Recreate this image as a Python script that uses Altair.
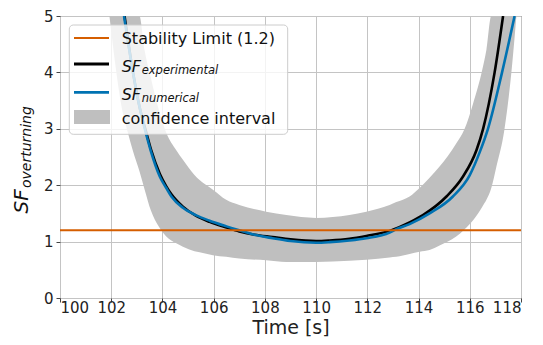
import altair as alt
import pandas as pd

# ---- data ----
time_exp = [102.52, 102.85, 103.1, 103.37, 103.56, 103.9, 104.15, 104.35, 104.8, 105.3,
            105.84, 106.5, 107.0, 107.6, 108.3, 109.0, 110.0, 110.53, 111.3, 111.96,
            112.87, 113.65, 114.17, 115.09, 115.73, 116.26, 116.52, 116.97, 117.3]
sf_exp = [5.0, 4.0, 3.4, 2.93, 2.62, 2.2, 1.98, 1.84, 1.62, 1.46,
          1.35, 1.25, 1.18, 1.12, 1.08, 1.04, 1.01, 1.02, 1.05, 1.10,
          1.19, 1.34, 1.47, 1.80, 2.15, 2.62, 3.0, 4.0, 5.0]

time_num = [102.5, 102.85, 103.1, 103.35, 103.55, 103.9, 104.15, 104.35, 104.8, 105.3,
            105.84, 106.5, 107.0, 107.6, 108.3, 109.0, 110.0, 110.53, 111.3, 111.96,
            112.87, 113.13, 113.65, 114.43, 115.34, 116.0, 116.4, 116.71, 117.26, 117.75]
sf_num = [5.0, 4.0, 3.4, 2.93, 2.6, 2.15, 1.95, 1.8, 1.6, 1.47,
          1.37, 1.27, 1.2, 1.12, 1.06, 1.01, 0.98, 0.99, 1.02, 1.06,
          1.16, 1.22, 1.31, 1.50, 1.80, 2.18, 2.6, 3.0, 4.0, 5.0]

band_time = [101.93, 102.2, 102.4, 102.65, 102.84, 103.1, 103.3, 103.55, 103.85, 104.15,
             104.54, 104.8, 105.25, 105.45, 105.97, 106.49, 107.0, 108.05, 108.84, 110.0,
             111.3, 111.96, 112.87, 113.13, 113.65, 114.04, 114.43, 114.82, 115.47, 115.8,
             116.13, 116.49, 116.65, 116.84, 117.04, 117.35, 117.62, 117.82]
band_lower = [5.0, 4.0, 3.4, 2.93, 2.62, 2.25, 1.93, 1.55, 1.27, 1.09,
              0.97, 0.91, 0.83, 0.81, 0.76, 0.73, 0.70, 0.67, 0.64, 0.64,
              0.66, 0.68, 0.72, 0.73, 0.78, 0.82, 0.85, 0.93, 1.09, 1.22,
              1.38, 1.62, 1.74, 1.95, 2.33, 2.98, 3.98, 5.0]
band_upper = [5.0, 5.0, 5.0, 5.0, 5.0, 5.0, 4.4, 3.9, 3.35, 2.93,
              2.62, 2.45, 2.18, 2.09, 1.92, 1.74, 1.65, 1.53, 1.47, 1.42,
              1.47, 1.53, 1.65, 1.70, 1.80, 1.95, 2.13, 2.33, 2.74, 3.0,
              3.45, 4.05, 4.4, 5.0, 5.0, 5.0, 5.0, 5.0]

STABILITY_LIMIT = 1.2
x_ticks = [100, 102, 104, 106, 108, 110, 112, 114, 116, 118]
y_ticks = [0, 1, 2, 3, 4, 5]

legend_labels = ["Stability Limit (1.2)", "SF", "experimental", "SF", "numerical", "confidence interval"]
y_title_main = "SF"
y_title_sub = "overturning"

ORANGE = "#D55E00"
BLUE = "#0072B2"
BLACK = "#000000"
GRAY = "#bfbfbf"
FONT = "DejaVu Sans"

exp_df = pd.DataFrame({"t": time_exp, "sf": sf_exp})
num_df = pd.DataFrame({"t": time_num, "sf": sf_num})
band_df = pd.DataFrame({"t": band_time, "lo": band_lower, "hi": band_upper})
limit_df = pd.DataFrame({"sf": [STABILITY_LIMIT]})
one = pd.DataFrame({"k": [0]})

xscale = alt.Scale(domain=[100, 118], nice=False, zero=False)
yscale = alt.Scale(domain=[0, 5], nice=False)

x_enc = alt.X("t:Q", scale=xscale,
              axis=alt.Axis(values=x_ticks, title="Time [s]", format="d",
                            labelOverlap=False, titleBaseline="alphabetic", titleY=35))

band = alt.Chart(band_df).mark_area(color=GRAY, opacity=1, interpolate="monotone", clip=True).encode(
    x=x_enc,
    y=alt.Y("lo:Q", scale=yscale, axis=alt.Axis(values=y_ticks, title=None, format="d")),
    y2="hi:Q",
)
exp_line = alt.Chart(exp_df).mark_line(color=BLACK, strokeWidth=2.6, interpolate="monotone", clip=True).encode(
    x="t:Q", y="sf:Q")
num_line = alt.Chart(num_df).mark_line(color=BLUE, strokeWidth=2.6, interpolate="monotone", clip=True).encode(
    x="t:Q", y="sf:Q")
limit = alt.Chart(limit_df).mark_rule(color=ORANGE, strokeWidth=2).encode(y="sf:Q")

# ---- custom legend (matplotlib style with subscripts) ----
leg_box = alt.Chart(one).mark_rect(fill="white", fillOpacity=0.8, stroke="#cccccc",
                                   strokeWidth=1, cornerRadius=4).encode(
    x=alt.value(9.3), x2=alt.value(227.7), y=alt.value(9), y2=alt.value(118.3))
leg_l1 = alt.Chart(one).mark_rule(color=ORANGE, strokeWidth=2.2).encode(
    x=alt.value(14), x2=alt.value(49), y=alt.value(22))
leg_l2 = alt.Chart(one).mark_rule(color=BLACK, strokeWidth=2.8).encode(
    x=alt.value(14), x2=alt.value(49), y=alt.value(48))
leg_l3 = alt.Chart(one).mark_rule(color=BLUE, strokeWidth=2.8).encode(
    x=alt.value(14), x2=alt.value(49), y=alt.value(76.3))
leg_patch = alt.Chart(one).mark_rect(color=GRAY).encode(
    x=alt.value(14), x2=alt.value(50), y=alt.value(94), y2=alt.value(108))

def txt(label, x, y, size, italic=False, baseline="middle", angle=0, align="left"):
    kw = dict(font=FONT, fontSize=size, color="#111111", align=align, baseline=baseline, text=label)
    if italic:
        kw["fontStyle"] = "italic"
    if angle:
        kw["angle"] = angle
    return alt.Chart(one).mark_text(**kw).encode(x=alt.value(x), y=alt.value(y))

t1 = txt(legend_labels[0], 61.7, 22.5, 16)
t2a = txt(legend_labels[1], 61.7, 55.5, 16, italic=True, baseline="alphabetic")
t2b = txt(legend_labels[2], 81.7, 58, 11.5, italic=True, baseline="alphabetic")
t3a = txt(legend_labels[3], 61.7, 83.5, 16, italic=True, baseline="alphabetic")
t3b = txt(legend_labels[4], 81.7, 86, 11.5, italic=True, baseline="alphabetic")
t4 = txt(legend_labels[5], 61.7, 103, 16)

# ---- y axis title with subscript ----
ya = txt(y_title_main, -31.7, 197.5, 20, italic=True, baseline="alphabetic", angle=270)
yb = txt(y_title_sub, -29.5, 172, 14, italic=True, baseline="alphabetic", angle=270)

chart = alt.layer(
    band, exp_line, num_line, limit,
    leg_box, leg_l1, leg_l2, leg_l3, leg_patch, t1, t2a, t2b, t3a, t3b, t4,
    ya, yb,
).properties(
    width=461, height=282,
    autosize=alt.AutoSizeParams(type="none"),
    padding={"left": 60, "top": 16, "right": 22, "bottom": 47},
).configure_view(
    stroke="#444444", strokeWidth=1
).configure_axis(
    grid=True, gridColor="#c4c4c4", gridWidth=1,
    domain=False,
    tickColor="#444444", tickSize=4, tickWidth=1,
    labelFont=FONT, labelFontSize=15, labelColor="#222222",
    titleFont=FONT, titleFontSize=19, titleFontWeight="normal", titleColor="#222222",
).configure_axisX(
    labelPadding=-2
).configure_axisY(
    labelPadding=3
)

chart.save("out.html", embed_options={"renderer": "svg", "actions": False})
